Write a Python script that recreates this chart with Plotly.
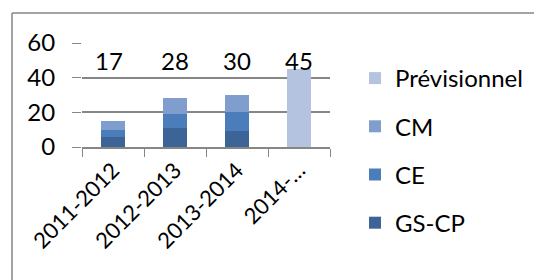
import plotly.graph_objects as go

categories = ["2011-2012", "2012-2013", "2013-2014", "2014-…"]
gs_cp = [6, 11, 9, 0]
ce = [4, 8, 11, 0]
cm = [5, 9, 10, 0]
previsionnel = [0, 0, 0, 45]
totals_labels = ["17", "28", "30", "45"]
label_y = 50
y_ticks = [0, 20, 40, 60]

series = [
    ("GS-CP", gs_cp, "#3C6496", 4),
    ("CE", ce, "#4A7DBA", 3),
    ("CM", cm, "#7F9ECD", 2),
    ("Prévisionnel", previsionnel, "#B4C4E0", 1),
]

FONT = "Lato"
FS = 24
OFF = 8  # page body margin

fig = go.Figure()
for name, vals, col, rank in series:
    fig.add_trace(go.Bar(
        x=categories, y=vals, name=name, marker=dict(color=col, line=dict(width=0)),
        legendgroup=name, legendrank=rank, hoverinfo="skip",
    ))

for i, (c, t) in enumerate(zip(categories, totals_labels)):
    fig.add_annotation(x=c, y=label_y, text=t, showarrow=False,
                       xshift=-4 if i == 0 else 0,
                       font=dict(family=FONT, size=FS, color="black"), yanchor="middle")

W, H = 542 - OFF, 280 - OFF
L, T = 82 - OFF, 43 - OFF
R = W - (330 - OFF)
B = H - (147 - OFF)
pw, ph = W - L - R, H - T - B

def px(xp):
    return (xp - OFF - L) / pw

def py(yp):
    return (H - B - (yp - OFF)) / ph

line = dict(color="#868686", width=1.5)
fig.add_shape(type="line", xref="paper", yref="paper", x0=px(12), x1=px(545), y0=py(13), y1=py(13), line=line)
fig.add_shape(type="line", xref="paper", yref="paper", x0=px(12), x1=px(12), y0=py(13), y1=py(285), line=line)

fig.update_layout(
    width=W, height=H, barmode="stack", bargap=0.6,
    margin=dict(l=L, r=R, t=T, b=B, autoexpand=False),
    paper_bgcolor="white", plot_bgcolor="white",
    font=dict(family=FONT, size=FS, color="black"),
    showlegend=True,
    legend=dict(x=(355 - OFF) / W, xanchor="left", xref="container",
                y=1 - (56 - OFF) / H, yanchor="top", yref="container",
                traceorder="grouped", tracegroupgap=14, maxheight=260,
                font=dict(family=FONT, size=FS), bgcolor="rgba(0,0,0,0)"),
    xaxis=dict(type="category", tickangle=-45, ticks="outside", tickson="boundaries",
               ticklen=8, tickcolor="#868686", showline=True, linecolor="#868686",
               linewidth=1.5, showgrid=False, tickfont=dict(family=FONT, size=22)),
    yaxis=dict(range=[0, 60], tickvals=y_ticks, ticks="outside", ticklen=9,
               tickcolor="#868686", showgrid=True, gridcolor="#868686", gridwidth=1.5,
               showline=False, zeroline=False, ticklabelstandoff=12,
               tickfont=dict(family=FONT, size=FS)),
)

fig.write_html("out.html")
